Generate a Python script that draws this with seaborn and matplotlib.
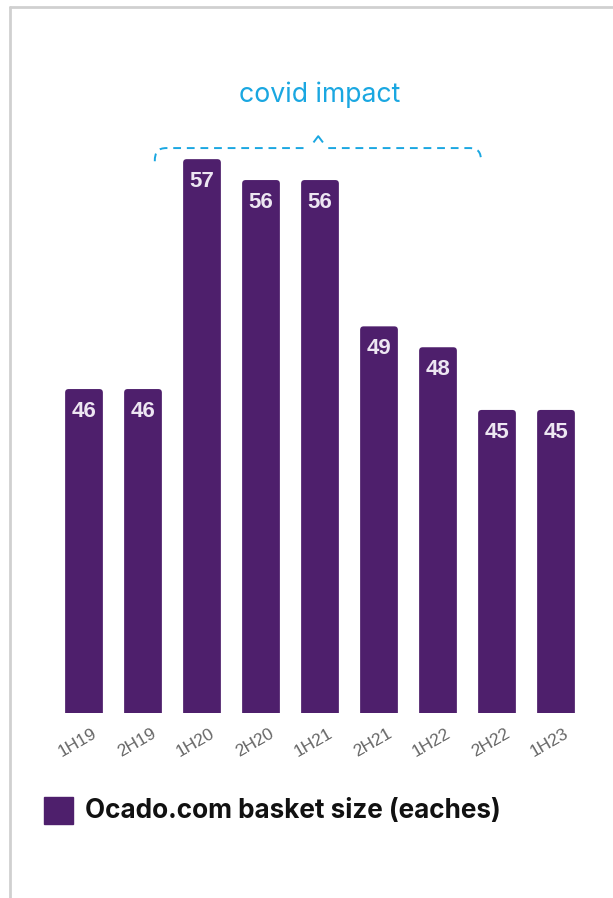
import matplotlib
matplotlib.use("Agg")
import matplotlib.pyplot as plt
import matplotlib.transforms as mtrans
from matplotlib.path import Path
from matplotlib.patches import PathPatch, Rectangle, FancyBboxPatch
import seaborn as sns
import pandas as pd

# Ocado.com average basket size per half-year
periods = ["1H19", "2H19", "1H20", "2H20", "1H21", "2H21", "1H22", "2H22", "1H23"]
basket_size = [46, 46, 57, 56, 56, 49, 48, 45, 45]
series_name = "Ocado.com basket size (eaches)"
note_text = "covid impact"

purple = "#4E1F6C"
blue = "#1AA7E1"

df = pd.DataFrame({"period": periods, "size": basket_size})

sns.set_theme(style="white")
plt.rcParams["font.family"] = ["Liberation Sans", "DejaVu Sans"]

fig = plt.figure(figsize=(6.13, 8.98), dpi=100)
fig.patch.set_facecolor("white")

# card frame
fig.add_artist(plt.Line2D([9.5 / 613, 9.5 / 613], [0, 1 - 6.5 / 898],
                          transform=fig.transFigure, color="#d0d0d0", lw=2))
fig.add_artist(plt.Line2D([9.5 / 613, 1], [1 - 6.5 / 898, 1 - 6.5 / 898],
                          transform=fig.transFigure, color="#d0d0d0", lw=2))

ax = fig.add_axes([54.5 / 613, 1 - 713 / 898, 531 / 613, 583 / 898])
sns.barplot(data=df, x="period", y="size", color=purple, saturation=1,
            width=0.64, ax=ax)

base = 30.5
px_per_x, px_per_y = 59.0, 20.9

# swap the flat bars for slightly rounded ones
bars = list(ax.patches)
for p in bars:
    x, w, h = p.get_x(), p.get_width(), p.get_height()
    fb = FancyBboxPatch((x, base - 1), w, h - base + 1,
                        boxstyle="round,pad=0,rounding_size=0.06",
                        mutation_aspect=px_per_x / px_per_y,
                        facecolor=purple, edgecolor="none")
    ax.add_patch(fb)
    p.remove()

ax.set_xlim(-0.5, len(periods) - 0.5)
ax.set_ylim(base, base + 583 / px_per_y)

# value labels inside the bar tops
for i, v in enumerate(basket_size):
    ax.annotate(f"{v}", xy=(i, v), xytext=(0, -16), textcoords="offset points",
                ha="center", va="center", color="#EDE6F2", fontsize=16,
                fontweight="bold")

ax.set_xlabel("")
ax.set_ylabel("")
ax.set_yticks([])
sns.despine(ax=ax, left=True, bottom=True)
ax.tick_params(axis="x", length=0, pad=9)
offset = mtrans.ScaledTranslation(8 / 100, 0, fig.dpi_scale_trans)
for lab in ax.get_xticklabels():
    lab.set_rotation(30)
    lab.set_ha("right")
    lab.set_va("top")
    lab.set_rotation_mode("anchor")
    lab.set_fontsize(12.5)
    lab.set_color("#666666")
    lab.set_transform(lab.get_transform() + offset)

# dashed curly brace over the covid-period bars
x0, x1, xm = 1.2, 6.73, 3.97
y_end, y_mid, y_peak = 56.9, 57.53, 58.1
left = [(x0, y_end), (x0, y_mid - 0.2), (x0 + 0.05, y_mid), (x0 + 0.2, y_mid),
        (xm - 0.17, y_mid)]
right = [(xm + 0.17, y_mid), (x1 - 0.2, y_mid), (x1 - 0.05, y_mid),
         (x1, y_mid - 0.2), (x1, y_end)]
c_left = [Path.MOVETO, Path.CURVE4, Path.CURVE4, Path.CURVE4, Path.LINETO]
c_right = [Path.MOVETO, Path.LINETO, Path.CURVE4, Path.CURVE4, Path.CURVE4]
for verts, codes in ((left, c_left), (right, c_right)):
    ax.add_patch(PathPatch(Path(verts, codes), fill=False, edgecolor=blue,
                           lw=1.4, linestyle=(0, (4, 3)), clip_on=False))
ax.plot([xm - 0.08, xm, xm + 0.08], [y_peak - 0.3, y_peak, y_peak - 0.3],
        color=blue, lw=1.4, clip_on=False, solid_capstyle="butt")

fig.text(320 / 613, 1 - 95 / 898, note_text, ha="center", va="center",
         color=blue, fontsize=19.2, family=["Inter", "DejaVu Sans"])

# legend
fig.add_artist(Rectangle((44 / 613, 1 - 824 / 898), 29 / 613, 27 / 898,
                         transform=fig.transFigure, color=purple))
fig.text(85 / 613, 1 - 810.5 / 898, series_name, ha="left", va="center",
         color="#111111", fontsize=18.8, fontweight="bold",
         family=["Inter", "DejaVu Sans"])

fig.savefig("out.png", dpi=100)
